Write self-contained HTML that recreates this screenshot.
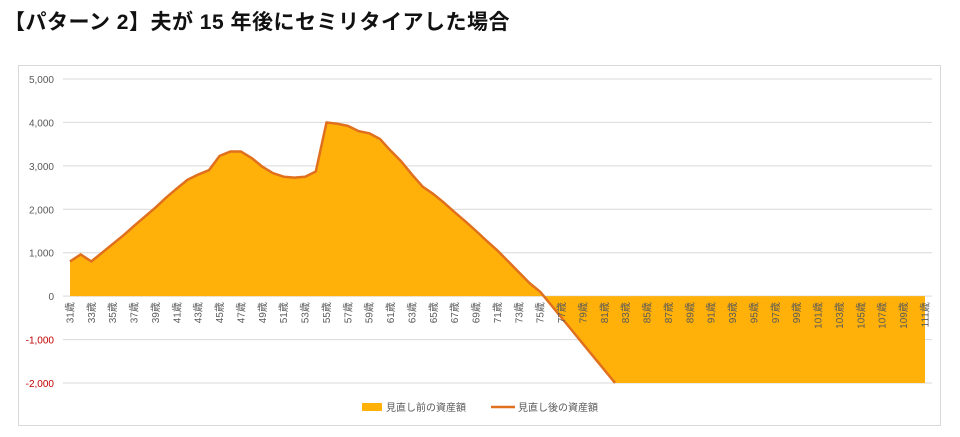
<!DOCTYPE html>
<html><head><meta charset="utf-8">
<style>
html,body{margin:0;background:#fff;width:960px;height:437px;overflow:hidden;font-family:"Liberation Sans","Noto Sans CJK JP",sans-serif;}
#title{position:absolute;left:4px;top:6px;font-size:21px;font-weight:bold;color:#111;letter-spacing:0.5px;}
svg{position:absolute;left:0;top:0;overflow:hidden}
</style></head><body>
<div id="title">【パターン 2】夫が 15 年後にセミリタイアした場合</div>
<svg id="chart" width="960" height="437"></svg>
<script>
const ages=[];for(let a=31;a<=111;a++)ages.push(a);
const valuesBefore=[800,960,800,1000,1200,1400,1620,1830,2040,2270,2480,2680,2800,2900,3230,3330,3330,3180,2980,2830,2750,2730,2750,2870,4000,3970,3920,3800,3750,3620,3350,3100,2800,2520,2350,2150,1930,1720,1500,1270,1050,800,550,300,100,-200,-500,-800,-1100,-1400,-1700,-2000,-2300,-2600,-2900,-3200,-3500,-3800,-4100,-4400,-4700,-5000,-5300,-5600,-5900,-6200,-6500,-6800,-7100,-7400,-7700,-8000,-8300,-8600,-8900,-9200,-9500,-9800,-10100,-10400,-10700];
const valuesAfter=valuesBefore.slice();
const yTicks=[5000,4000,3000,2000,1000,0,-1000,-2000];
const yTickLabels=["5,000","4,000","3,000","2,000","1,000","0","-1,000","-2,000"];
const legendLabels=["見直し前の資産額","見直し後の資産額"];
const NS="http://www.w3.org/2000/svg",svg=document.getElementById('chart');
const x0=70,x1=925,yTop=79,yBot=383,yMin=-2000,yMax=5000;
const X=i=>x0+(x1-x0)*i/(ages.length-1);
const Y=v=>yBot-(Math.max(yMin,Math.min(yMax,v))-yMin)/(yMax-yMin)*(yBot-yTop);
function mk(t,at){const e=document.createElementNS(NS,t);for(const k in at)e.setAttribute(k,at[k]);svg.appendChild(e);return e;}
// build clamped point list with intersection points at yMin
function clampedPts(vals){const out=[];vals.forEach((v,i)=>{
 if(i>0){const p=vals[i-1];if((p-yMin)*(v-yMin)<0){const f=(yMin-p)/(v-p);out.push([X(i-1+f),Y(yMin),true]);}}
 out.push([X(i),Y(v),v>=yMin]);});return out;}
const frame=mk('rect',{x:18.5,y:65.5,width:922,height:360,fill:'none',stroke:'#d9d9d9'});


yTicks.forEach((v,i)=>{
 const g=mk('line',{x1:63,x2:932,y1:Y(v),y2:Y(v),stroke:'#d9d9d9','stroke-width':1});
 
 
 const t=mk('text',{x:54,y:Y(v)+4,'text-anchor':'end','font-size':10,fill:v<0?'#c00000':'#595959'});
 t.textContent=yTickLabels[i];
 
 
});
const ap=clampedPts(valuesBefore);
let d='M'+X(0)+','+Y(0);
ap.forEach(p=>d+=' L'+p[0].toFixed(2)+','+p[1].toFixed(2));
d+=' L'+X(ages.length-1)+','+Y(0)+' Z';
const area=mk('path',{d:d,fill:'#ffb10a'});


const lp=clampedPts(valuesAfter).filter(p=>p[2]);
const ln=mk('polyline',{points:lp.map(p=>p[0].toFixed(2)+','+p[1].toFixed(2)).join(' '),fill:'none',stroke:'#e0701e','stroke-width':2.5,'stroke-linejoin':'round'});


ages.forEach((a,i)=>{if(a%2===0)return;
 const x=X(i)+3.5,y=Y(0)+6;
 const t=mk('text',{x:x,y:y,'text-anchor':'end','font-size':10,fill:'#595959',transform:`rotate(-90 ${x} ${y})`});
 t.textContent=a+'歳';
 
 
});
const l1=mk('rect',{x:362,y:403,width:20,height:8,fill:'#ffb10a'});


const t1=mk('text',{x:386,y:411,'font-size':10,fill:'#595959'});t1.textContent=legendLabels[0];


const l2=mk('line',{x1:491,x2:515,y1:407,y2:407,stroke:'#e0701e','stroke-width':2.5});


const t2=mk('text',{x:518,y:411,'font-size':10,fill:'#595959'});t2.textContent=legendLabels[1];


</script>
</body></html>
